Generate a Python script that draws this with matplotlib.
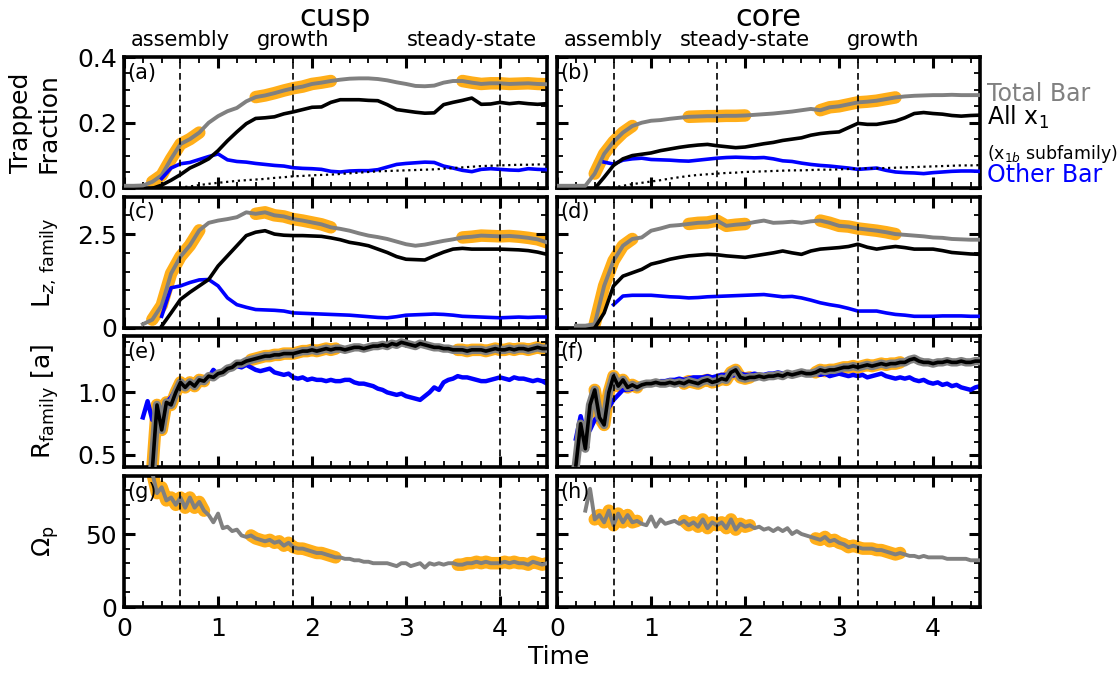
import numpy as np
import matplotlib.pyplot as plt
from matplotlib.ticker import MultipleLocator

COARSE = 0.1
FINE = 0.05

# ---- phases / highlighted windows ----
phase_lines = {'cusp': [0.6, 1.8, 4.0], 'core': [0.6, 1.7, 3.2]}
phase_names = {'cusp': ['assembly', 'growth', 'steady-state'],
               'core': ['assembly', 'steady-state', 'growth']}
phase_label_x = {'cusp': [0.6, 1.8, 3.7], 'core': [0.6, 2.0, 3.47]}
highlight = {'cusp': [(0.3, 0.85), (1.35, 2.25), (3.55, 4.5)],
             'core': [(0.4, 0.85), (1.35, 2.05), (2.75, 3.65)]}

# ---- trapped fraction (step 0.1) ----
frac_total_cusp = [0.008, 0.008, 0.009, 0.02, 0.04, 0.09, 0.135, 0.15, 0.17, 0.20,
                   0.22, 0.235, 0.245, 0.265, 0.278, 0.283, 0.29, 0.298, 0.305, 0.31,
                   0.318, 0.322, 0.327, 0.331, 0.334, 0.335, 0.335, 0.333, 0.329, 0.323,
                   0.318, 0.312, 0.311, 0.313, 0.322, 0.327, 0.327, 0.322, 0.318, 0.32,
                   0.32, 0.318, 0.319, 0.32, 0.318, 0.317]
frac_x1_cusp = [0.0, 0.01, 0.025, 0.042, 0.062, 0.075, 0.09, 0.115, 0.145, 0.172,
                0.197, 0.213, 0.215, 0.218, 0.227, 0.233, 0.24, 0.247, 0.248, 0.262,
                0.27, 0.27, 0.27, 0.268, 0.267, 0.255, 0.24, 0.236, 0.232, 0.229,
                0.23, 0.255, 0.262, 0.268, 0.275, 0.256, 0.257, 0.262, 0.258, 0.261,
                0.258, 0.256, 0.258]
frac_other_cusp = [0.03, 0.062, 0.075, 0.079, 0.088, 0.097, 0.105, 0.087, 0.082, 0.08,
                   0.076, 0.073, 0.07, 0.068, 0.063, 0.061, 0.06, 0.058, 0.052, 0.05,
                   0.053, 0.054, 0.054, 0.057, 0.065, 0.073, 0.076, 0.078, 0.08, 0.079,
                   0.068, 0.062, 0.055, 0.051, 0.058, 0.06, 0.058, 0.056, 0.055, 0.06,
                   0.058, 0.057]
frac_x1b_cusp = [0.0, 0.0, 0.003, 0.006, 0.01, 0.014, 0.017, 0.02, 0.023, 0.025,
                 0.027, 0.029, 0.032, 0.034, 0.037, 0.038, 0.04, 0.041, 0.042, 0.044,
                 0.046, 0.048, 0.05, 0.052, 0.053, 0.054, 0.055, 0.056, 0.057, 0.058,
                 0.06, 0.062, 0.064, 0.066, 0.068, 0.069, 0.07, 0.071, 0.072, 0.072,
                 0.073, 0.073]

frac_total_core = [0.008, 0.008, 0.008, 0.008, 0.045, 0.105, 0.142, 0.17, 0.19, 0.20,
                   0.206, 0.208, 0.212, 0.215, 0.218, 0.219, 0.22, 0.22, 0.221, 0.221,
                   0.222, 0.224, 0.226, 0.228, 0.231, 0.234, 0.238, 0.242, 0.238, 0.247,
                   0.25, 0.256, 0.262, 0.264, 0.267, 0.272, 0.277, 0.28, 0.282, 0.283,
                   0.284, 0.284, 0.285, 0.284, 0.284, 0.284]
frac_x1_core = [0.0, 0.034, 0.07, 0.09, 0.1, 0.104, 0.108, 0.115, 0.12, 0.125,
                0.129, 0.132, 0.134, 0.13, 0.127, 0.124, 0.126, 0.131, 0.136, 0.14,
                0.146, 0.15, 0.154, 0.162, 0.167, 0.17, 0.172, 0.185, 0.198, 0.195,
                0.195, 0.2, 0.205, 0.215, 0.228, 0.231, 0.228, 0.226, 0.222, 0.22,
                0.222, 0.223]
frac_other_core = [0.08, 0.074, 0.086, 0.09, 0.092, 0.088, 0.087, 0.086, 0.084, 0.083,
                   0.086, 0.089, 0.092, 0.094, 0.095, 0.094, 0.093, 0.094, 0.09, 0.084,
                   0.082, 0.077, 0.073, 0.07, 0.068, 0.065, 0.062, 0.058, 0.06, 0.062,
                   0.055, 0.05, 0.048, 0.047, 0.045, 0.048, 0.05, 0.052, 0.053, 0.053,
                   0.052]
frac_x1b_core = [0.0, 0.001, 0.003, 0.008, 0.013, 0.017, 0.021, 0.025, 0.03, 0.034,
                 0.038, 0.041, 0.043, 0.045, 0.047, 0.048, 0.05, 0.051, 0.052, 0.053,
                 0.054, 0.055, 0.055, 0.056, 0.057, 0.057, 0.058, 0.059, 0.06, 0.061,
                 0.061, 0.062, 0.063, 0.064, 0.065, 0.066, 0.067, 0.068, 0.069, 0.07,
                 0.07, 0.071]

# ---- L_z (step 0.1) ----
lz_total_cusp = [0.1, 0.22, 0.6, 1.45, 1.9, 2.2, 2.6, 2.8, 2.86, 2.9,
                 2.95, 3.08, 3.04, 3.08, 3.0, 2.97, 2.9, 2.86, 2.81, 2.76,
                 2.68, 2.64, 2.59, 2.52, 2.46, 2.42, 2.37, 2.3, 2.23, 2.19,
                 2.22, 2.27, 2.32, 2.36, 2.41, 2.43, 2.46, 2.45, 2.44, 2.45,
                 2.43, 2.4, 2.36, 2.28]
lz_x1_cusp = [0.05, 0.4, 0.76, 0.95, 1.12, 1.29, 1.65, 1.92, 2.19, 2.46,
              2.55, 2.59, 2.5, 2.47, 2.46, 2.46, 2.45, 2.44, 2.4, 2.35,
              2.28, 2.24, 2.19, 2.1, 2.01, 1.9, 1.83, 1.82, 1.81, 1.92,
              2.02, 2.1, 2.12, 2.1, 2.1, 2.1, 2.1, 2.09, 2.08, 2.06,
              2.02, 1.96]
lz_other_cusp = [0.31, 1.07, 1.12, 1.21, 1.28, 1.29, 1.12, 0.8, 0.62, 0.55,
                 0.49, 0.48, 0.47, 0.45, 0.4, 0.39, 0.38, 0.37, 0.36, 0.35,
                 0.34, 0.32, 0.3, 0.28, 0.27, 0.3, 0.34, 0.35, 0.36, 0.37,
                 0.36, 0.34, 0.31, 0.3, 0.29, 0.28, 0.27, 0.28, 0.29, 0.28,
                 0.29, 0.29]

lz_total_core = [0.06, 0.06, 0.1, 1.12, 1.79, 2.19, 2.37, 2.41, 2.59, 2.65,
                 2.72, 2.74, 2.77, 2.8, 2.81, 2.86, 2.72, 2.75, 2.77, 2.82,
                 2.86, 2.8, 2.81, 2.83, 2.8, 2.84, 2.86, 2.8, 2.72, 2.7,
                 2.65, 2.62, 2.59, 2.55, 2.5, 2.48, 2.46, 2.44, 2.41, 2.4,
                 2.37, 2.36, 2.35, 2.35]
lz_x1_core = [0.0, 0.4, 1.12, 1.38, 1.47, 1.56, 1.7, 1.76, 1.83, 1.88,
              1.92, 1.94, 1.96, 1.95, 1.92, 1.9, 1.88, 1.92, 1.96, 2.0,
              2.05, 2.0, 1.96, 2.05, 2.1, 2.12, 2.14, 2.17, 2.23, 2.15,
              2.1, 2.14, 2.17, 2.14, 2.1, 2.1, 2.1, 2.06, 2.01, 1.99,
              1.97, 1.96]
lz_other_core = [0.62, 0.85, 0.87, 0.87, 0.87, 0.85, 0.83, 0.82, 0.8, 0.81,
                 0.83, 0.84, 0.85, 0.86, 0.87, 0.88, 0.89, 0.86, 0.83, 0.84,
                 0.8, 0.74, 0.67, 0.62, 0.58, 0.52, 0.45, 0.45, 0.45, 0.4,
                 0.36, 0.34, 0.31, 0.31, 0.31, 0.32, 0.32, 0.32, 0.31, 0.31]

# ---- R_family (step 0.05); total bar radius overlaps the x1 curve ----
r_x1_cusp = [0.38, 0.90, 0.70, 0.92, 0.90, 1.00, 1.08, 1.04, 1.08, 1.05,
             1.10, 1.09, 1.13, 1.12, 1.15, 1.16, 1.19, 1.20, 1.23, 1.23,
             1.25, 1.26, 1.27, 1.28, 1.29, 1.29, 1.30, 1.30, 1.31, 1.31,
             1.31, 1.32, 1.33, 1.33, 1.34, 1.33, 1.34, 1.35, 1.34, 1.35,
             1.35, 1.34, 1.35, 1.36, 1.36, 1.35, 1.36, 1.37, 1.37, 1.38,
             1.37, 1.39, 1.38, 1.40, 1.39, 1.38, 1.37, 1.39, 1.38, 1.37,
             1.36, 1.36, 1.35, 1.35, 1.34, 1.34, 1.34, 1.33, 1.34, 1.34,
             1.34, 1.33, 1.34, 1.35, 1.34, 1.34, 1.35, 1.34, 1.35, 1.35,
             1.34, 1.35, 1.36, 1.35, 1.35]
r_other_cusp = [0.80, 0.93, 0.78, 0.84, 0.80, 0.92, 0.96, 1.02, 1.05, 1.03,
                1.06, 1.05, 1.08, 1.10, 1.12, 1.18, 1.14, 1.16, 1.18, 1.19,
                1.21, 1.20, 1.22, 1.20, 1.18, 1.17, 1.18, 1.19, 1.16, 1.15,
                1.14, 1.15, 1.12, 1.11, 1.12, 1.10, 1.11, 1.10, 1.10, 1.09,
                1.10, 1.09, 1.09, 1.10, 1.10, 1.08, 1.07, 1.07, 1.06, 1.05,
                1.03, 1.02, 1.00, 0.99, 0.98, 0.99, 0.97, 0.96, 0.95, 0.94,
                0.97, 1.00, 1.04, 1.02, 1.08, 1.10, 1.11, 1.13, 1.12, 1.12,
                1.11, 1.10, 1.09, 1.09, 1.10, 1.11, 1.12, 1.11, 1.10, 1.12,
                1.11, 1.11, 1.10, 1.09, 1.10, 1.09, 1.07]

r_x1_core = [0.42, 0.75, 0.55, 0.90, 1.02, 0.80, 0.74, 1.00, 1.13, 1.05,
             1.10, 1.04, 1.06, 1.04, 1.06, 1.07, 1.07, 1.08, 1.07, 1.07,
             1.08, 1.07, 1.08, 1.07, 1.09, 1.08, 1.07, 1.09, 1.10, 1.08,
             1.09, 1.11, 1.10, 1.16, 1.18, 1.12, 1.11, 1.12, 1.12, 1.13,
             1.12, 1.13, 1.13, 1.14, 1.13, 1.15, 1.14, 1.15, 1.16, 1.15,
             1.15, 1.16, 1.18, 1.17, 1.18, 1.18, 1.19, 1.20, 1.20, 1.21,
             1.20, 1.21, 1.22, 1.21, 1.22, 1.23, 1.22, 1.23, 1.23, 1.24,
             1.24, 1.26, 1.27, 1.25, 1.24, 1.24, 1.23, 1.24, 1.24, 1.25,
             1.24, 1.24, 1.25, 1.24, 1.24, 1.25, 1.25]
r_other_core = [0.63, 0.81, 0.65, 0.70, 0.78, 0.82, 0.84, 0.88, 0.94, 0.98,
                1.02, 1.02, 1.03, 1.05, 1.07, 1.07, 1.07, 1.08, 1.09, 1.09,
                1.10, 1.10, 1.11, 1.10, 1.11, 1.12, 1.12, 1.12, 1.13, 1.12,
                1.13, 1.14, 1.14, 1.13, 1.14, 1.15, 1.14, 1.14, 1.15, 1.14,
                1.14, 1.15, 1.15, 1.16, 1.15, 1.14, 1.15, 1.16, 1.15, 1.15,
                1.14, 1.15, 1.14, 1.15, 1.13, 1.14, 1.15, 1.14, 1.13, 1.14,
                1.13, 1.14, 1.12, 1.13, 1.14, 1.15, 1.13, 1.12, 1.11, 1.12,
                1.11, 1.12, 1.10, 1.09, 1.10, 1.08, 1.07, 1.08, 1.06, 1.07,
                1.05, 1.06, 1.04, 1.03, 1.02, 1.04, 1.05]

# ---- pattern speed (step 0.05) ----
omega_cusp = [92, 78, 82, 73, 75, 70, 75, 68, 75, 68,
              72, 66, 63, 58, 64, 54, 55, 52, 53, 49,
              48, 49, 47, 46, 45, 46, 44, 45, 42, 44,
              41, 40, 40, 39, 38, 37, 37, 36, 35, 34,
              34, 33, 33, 32, 32, 31, 31, 30, 30, 30,
              30, 29, 28, 30, 30, 28, 29, 30, 27, 30,
              29, 30, 29, 30, 30, 29, 29, 30, 30, 31,
              30, 31, 30, 30, 30, 31, 30, 31, 30, 30,
              29, 31, 30, 29, 30]
omega_core = [66, 81, 60, 63, 58, 66, 56, 64, 58, 63,
              58, 59, 57, 56, 62, 55, 60, 57, 58, 59,
              57, 59, 56, 58, 55, 60, 54, 58, 56, 58,
              54, 60, 53, 57, 55, 56, 54, 55, 53, 54,
              52, 54, 52, 54, 50, 52, 50, 49, 48, 47,
              46, 48, 45, 46, 44, 43, 41, 42, 41, 40,
              40, 40, 39, 39, 38, 37, 36, 37, 36, 35,
              35, 34, 35, 34, 34, 34, 34, 33, 33, 33,
              33, 33, 32, 32, 32]


def series(t0, vals, step):
    v = np.asarray(vals, dtype=float)
    return np.round(t0 + step * np.arange(len(v)), 3), v


def highlighted(ax, t, y, windows, lw):
    for lo, hi in windows:
        m = (t >= lo - 1e-9) & (t <= hi + 1e-9)
        ax.plot(t[m], y[m], color='orange', lw=lw, alpha=0.9,
                solid_capstyle='round', zorder=1)


fig = plt.figure(figsize=(11.18, 6.74), dpi=100)
gs = fig.add_gridspec(4, 2, left=0.111, right=0.8766, top=0.9154, bottom=0.0994,
                      hspace=0.062, wspace=0.024)
axes = np.array([[fig.add_subplot(gs[r, c]) for c in range(2)] for r in range(4)])

data = {
    'cusp': dict(frac=(frac_total_cusp, frac_x1_cusp, frac_other_cusp, frac_x1b_cusp),
                 frac_t0=(0.0, 0.3, 0.4, 0.4),
                 lz=(lz_total_cusp, lz_x1_cusp, lz_other_cusp), lz_t0=(0.2, 0.4, 0.4),
                 r=(r_x1_cusp, r_other_cusp), r_t0=(0.3, 0.2),
                 om=omega_cusp, om_t0=0.3),
    'core': dict(frac=(frac_total_core, frac_x1_core, frac_other_core, frac_x1b_core),
                 frac_t0=(0.0, 0.4, 0.5, 0.4),
                 lz=(lz_total_core, lz_x1_core, lz_other_core), lz_t0=(0.2, 0.4, 0.6),
                 r=(r_x1_core, r_other_core), r_t0=(0.2, 0.2),
                 om=omega_core, om_t0=0.3),
}

letters = 'abcdefgh'
for c, model in enumerate(['cusp', 'core']):
    d = data[model]
    win = highlight[model]

    # trapped fraction
    ax = axes[0, c]
    t, y = series(d['frac_t0'][0], d['frac'][0], COARSE)
    highlighted(ax, t, y, win, 9)
    ax.plot(t, y, color='gray', lw=2.8, zorder=3)
    t, y = series(d['frac_t0'][1], d['frac'][1], COARSE)
    ax.plot(t, y, color='black', lw=2.6, zorder=4)
    t, y = series(d['frac_t0'][2], d['frac'][2], COARSE)
    ax.plot(t, y, color='blue', lw=2.6, zorder=3)
    t, y = series(d['frac_t0'][3], d['frac'][3], COARSE)
    ax.plot(t, y, color='black', lw=1.6, ls=':', zorder=3)

    # L_z
    ax = axes[1, c]
    t, y = series(d['lz_t0'][0], d['lz'][0], COARSE)
    highlighted(ax, t, y, win, 9)
    ax.plot(t, y, color='gray', lw=2.8, zorder=3)
    t, y = series(d['lz_t0'][1], d['lz'][1], COARSE)
    ax.plot(t, y, color='black', lw=2.6, zorder=4)
    t, y = series(d['lz_t0'][2], d['lz'][2], COARSE)
    ax.plot(t, y, color='blue', lw=2.6, zorder=3)

    # R_family
    ax = axes[2, c]
    t, y = series(d['r_t0'][1], d['r'][1], FINE)
    ax.plot(t, y, color='blue', lw=3.2, zorder=2)
    t, y = series(d['r_t0'][0], d['r'][0], FINE)
    highlighted(ax, t, y, win, 9)
    ax.plot(t, y, color='gray', lw=6, zorder=3)
    ax.plot(t, y, color='black', lw=2.6, zorder=4)

    # pattern speed
    ax = axes[3, c]
    t, y = series(d['om_t0'], d['om'], FINE)
    highlighted(ax, t, y, win, 9)
    ax.plot(t, y, color='gray', lw=2.8, zorder=3)

    for r in range(4):
        ax = axes[r, c]
        for x in phase_lines[model]:
            ax.axvline(x, color='black', lw=1.2, ls=(0, (4, 2.5)), zorder=5)
        ax.text(0.008, 0.955, '(%s)' % letters[2 * r + c], transform=ax.transAxes,
                ha='left', va='top', fontsize=15, zorder=6)

    top = axes[0, c]
    for x, name in zip(phase_label_x[model], phase_names[model]):
        top.text(x, 1.13, name, transform=top.get_xaxis_transform(),
                 ha='center', va='center', fontsize=15)
    top.text(0.5, 1.3, model, transform=top.transAxes, ha='center',
             va='center', fontsize=22)

ylims = [(0, 0.4), (0, 3.5), (0.4, 1.45), (0, 90)]
ymajor = [0.2, 2.5, 0.5, 50]
yminor = [0.05, 0.5, 0.1, 10]
for r in range(4):
    for c in range(2):
        ax = axes[r, c]
        ax.set_xlim(0, 4.5)
        ax.set_ylim(*ylims[r])
        ax.xaxis.set_major_locator(MultipleLocator(1))
        ax.xaxis.set_minor_locator(MultipleLocator(0.2))
        ax.yaxis.set_major_locator(MultipleLocator(ymajor[r]))
        ax.yaxis.set_minor_locator(MultipleLocator(yminor[r]))
        ax.tick_params(which='both', direction='in', top=True, right=True,
                       labelsize=18)
        ax.tick_params(which='major', length=8, width=2.2, pad=5)
        ax.tick_params(which='minor', length=4.5, width=1.3)
        ax.tick_params(axis='x', pad=7)
        for s in ax.spines.values():
            s.set_linewidth(2.6)
        if r < 3:
            ax.tick_params(labelbottom=False)
        if c == 1:
            ax.tick_params(labelleft=False)

axes[0, 0].set_yticks([0.0, 0.2, 0.4])
axes[0, 0].set_yticklabels(['0.0', '0.2', '0.4'])
axes[1, 0].set_yticks([0, 2.5])
axes[1, 0].set_yticklabels(['0', '2.5'])
axes[1, 1].set_yticks([0, 2.5])

ylabels = ['Trapped\nFraction', r'L$_{z,\,\rm family}$', r'R$_{\rm family}$ [a]',
           r'$\Omega_{\rm p}$']
for r, lab in enumerate(ylabels):
    axes[r, 0].set_ylabel(lab, fontsize=18)
    axes[r, 0].yaxis.set_label_coords(-0.15, 0.5)

# right-hand legend text next to panel (b)
axb = axes[0, 1]
tr = axb.get_yaxis_transform()
axb.text(1.017, 0.288, 'Total Bar', color='gray', transform=tr, va='center',
         ha='left', fontsize=17, clip_on=False)
axb.text(1.017, 0.216, r'All x$_1$', color='black', transform=tr, va='center',
         ha='left', fontsize=17, clip_on=False)
axb.text(1.017, 0.106, r'(x$_{1b}$ subfamily)', color='black', transform=tr,
         va='center', ha='left', fontsize=12.5, clip_on=False)
axb.text(1.017, 0.04, 'Other Bar', color='blue', transform=tr, va='center',
         ha='left', fontsize=17, clip_on=False)

fig.text(0.5, 0.025, 'Time', ha='center', va='center', fontsize=18)

fig.savefig('out.png', dpi=100)
